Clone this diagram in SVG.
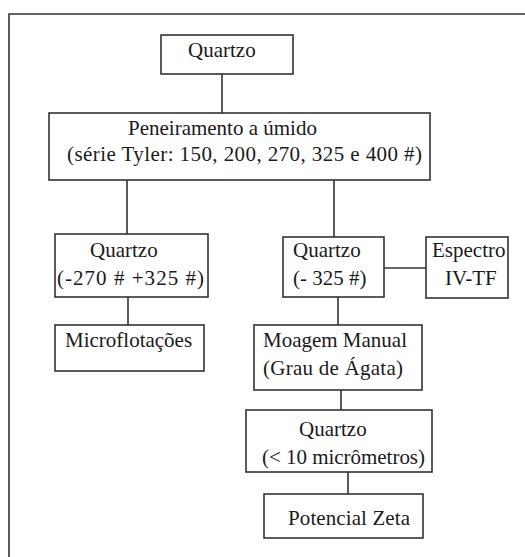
<svg xmlns="http://www.w3.org/2000/svg" width="525" height="557" viewBox="0 0 525 557">
<style>
.box{fill:#fff;stroke:#333;stroke-width:1.6}
.ln{stroke:#333;stroke-width:1.6;fill:none}
.t{font-family:'Liberation Serif','Tinos','Times New Roman',serif;font-size:21px;fill:#1a1a1a}
</style>
<rect width="525" height="557" fill="#fff"/>
<g id="frame"><path class="ln" d="M9,557 V14 H525"/></g>
<g id="connectors">
<path class="ln" d="M222,74 V113"/>
<path class="ln" d="M127,180 V234"/>
<path class="ln" d="M334,180 V237"/>
<path class="ln" d="M128,297 V325"/>
<path class="ln" d="M384,268 H426"/>
<path class="ln" d="M338,297 V325"/>
<path class="ln" d="M341,390 V410"/>
<path class="ln" d="M348,472 V494"/>
</g>
<g id="n1"><rect class="box" x="161" y="35" width="132" height="39"/><text class="t" x="188" y="57">Quartzo</text></g>
<g id="n2"><rect class="box" x="49" y="113" width="381" height="67"/><text class="t" x="128" y="135">Peneiramento a úmido</text><text class="t" x="67" y="161" textLength="355">(série Tyler: 150, 200, 270, 325 e 400 #)</text></g>
<g id="n3"><rect class="box" x="55" y="234" width="153" height="63"/><text class="t" x="90" y="257">Quartzo</text><text class="t" x="57" y="285" textLength="147">(-270 # +325 #)</text></g>
<g id="n4"><rect class="box" x="55" y="325" width="149" height="46"/><text class="t" x="65" y="347">Microflotações</text></g>
<g id="n5"><rect class="box" x="283" y="237" width="101" height="60"/><text class="t" x="293" y="257">Quartzo</text><text class="t" x="293" y="285">(- 325 #)</text></g>
<g id="n6"><rect class="box" x="426" y="237" width="82" height="61"/><text class="t" x="432" y="257">Espectro</text><text class="t" x="445" y="285">IV-TF</text></g>
<g id="n7"><rect class="box" x="254" y="325" width="168" height="65"/><text class="t" x="263" y="347" textLength="144">Moagem Manual</text><text class="t" x="263" y="375" textLength="140">(Grau de Ágata)</text></g>
<g id="n8"><rect class="box" x="246" y="410" width="186" height="62"/><text class="t" x="299" y="436">Quartzo</text><text class="t" x="262" y="464" textLength="163">(&lt; 10 micrômetros)</text></g>
<g id="n9"><rect class="box" x="264" y="494" width="159" height="44"/><text class="t" x="288" y="525" textLength="122">Potencial Zeta</text></g>
</svg>
